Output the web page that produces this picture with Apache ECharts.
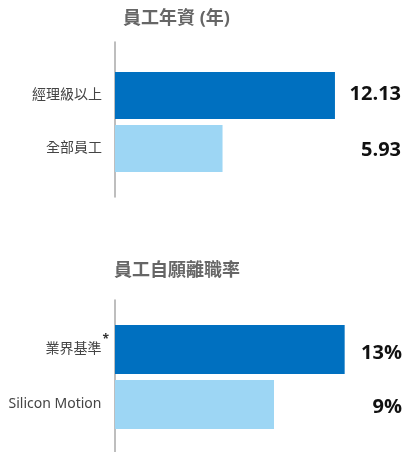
<!DOCTYPE html>
<html>
<head>
<meta charset="utf-8">
<script src="https://cdn.jsdelivr.net/npm/echarts@6/dist/echarts.min.js"></script>
<style>
  html, body { margin: 0; padding: 0; background: #fff; }
  #main { width: 409px; height: 452px; }
</style>
</head>
<body>
<div id="main"></div>
<script>
  // 員工年資
  const tenureCats = ['經理級以上', '全部員工'];
  const tenureValues = [12.13, 5.93];
  const tenureLabels = ['12.13', '5.93'];
  // 員工自願離職率
  const turnoverCats = ['業界基準', 'Silicon Motion'];
  const turnoverValues = [13, 9];
  const turnoverLabels = ['13%', '9%'];
  const barColors = ['#0070c0', '#9dd6f4'];

  const cjk = "'Noto Sans', 'Noto Sans CJK TC', sans-serif";
  const axisGray = '#a9a9a9';

  function items(values) {
    return values.map(function (v, i) {
      return { value: v, itemStyle: { color: barColors[i] } };
    });
  }

  // hidden x axis for each grid
  function hiddenX(g, max) {
    return { type: 'value', gridIndex: g, min: 0, max: max, show: false };
  }
  // the grey vertical line on the left
  function frameY(g) {
    return {
      type: 'value', gridIndex: g, min: 0, max: 1,
      axisLine: { show: true, onZero: false, lineStyle: { color: axisGray, width: 1.5 } },
      axisTick: { show: false }, axisLabel: { show: false }, splitLine: { show: false }
    };
  }
  // big bold numbers on the right
  function valueY(g, labels, margin) {
    return {
      type: 'category', gridIndex: g, inverse: true, position: 'right', data: labels,
      axisLine: { show: false }, axisTick: { show: false },
      axisLabel: { margin: margin, align: 'right', fontSize: 20, fontWeight: 'bold', color: '#111', fontFamily: 'Open Sans' }
    };
  }

  const myChart = echarts.init(document.getElementById('main'));
  const option = {
    backgroundColor: '#fff',
    animation: false,
    title: [
      {
        text: '員工年資 (年)', left: 118, top: 5,
        textStyle: { fontFamily: cjk, fontSize: 18, fontWeight: 'bold', color: '#666' }
      },
      {
        text: '員工自願離職率', left: 109, top: 257,
        textStyle: { fontFamily: cjk, fontSize: 18, fontWeight: 'bold', color: '#666' }
      }
    ],
    grid: [
      { left: 115, top: 69, height: 106, width: 272 },     // 0 top bars
      { left: 115, top: 42, height: 155, width: 1 },       // 1 top axis line
      { left: 115, top: 65.75, height: 113, width: 272 },  // 2 top numbers
      { left: 115, top: 322, height: 110, width: 265 },    // 3 bottom bars
      { left: 115, top: 300, height: 152, width: 1 },      // 4 bottom axis line
      { left: 115, top: 325.75, height: 109, width: 265 }  // 5 bottom numbers
    ],
    xAxis: [
      hiddenX(0, 15), hiddenX(1, 1), hiddenX(2, 1),
      hiddenX(3, 15), hiddenX(4, 1), hiddenX(5, 1)
    ],
    yAxis: [
      {
        type: 'category', gridIndex: 0, inverse: true, data: tenureCats,
        axisLine: { show: false }, axisTick: { show: false },
        axisLabel: { margin: 13, fontSize: 14, color: '#444', fontFamily: cjk }
      },
      frameY(1),
      valueY(2, tenureLabels, 14),
      {
        type: 'category', gridIndex: 3, inverse: true, data: turnoverCats,
        axisLine: { show: false }, axisTick: { show: false },
        axisLabel: {
          margin: 6, fontSize: 14, color: '#444', fontFamily: cjk,
          formatter: function (v, i) {
            return v + (i === 0 ? '{s|*}' : '{h|*}');
          },
          rich: {
            s: { fontSize: 12, fontWeight: 'bold', color: '#333', padding: [0, 0, 20, 1], fontFamily: 'Open Sans' },
            h: { fontSize: 12, fontWeight: 'bold', color: 'rgba(0,0,0,0)', padding: [0, 0, 0, 1], fontFamily: 'Open Sans' }
          }
        }
      },
      frameY(4),
      valueY(5, turnoverLabels, 22)
    ],
    series: [
      {
        name: '員工年資', type: 'bar', xAxisIndex: 0, yAxisIndex: 0,
        barWidth: 47, data: items(tenureValues)
      },
      {
        name: '員工自願離職率', type: 'bar', xAxisIndex: 3, yAxisIndex: 3,
        barWidth: 49, data: items(turnoverValues)
      }
    ]
  };
  myChart.setOption(option);
</script>
</body>
</html>
